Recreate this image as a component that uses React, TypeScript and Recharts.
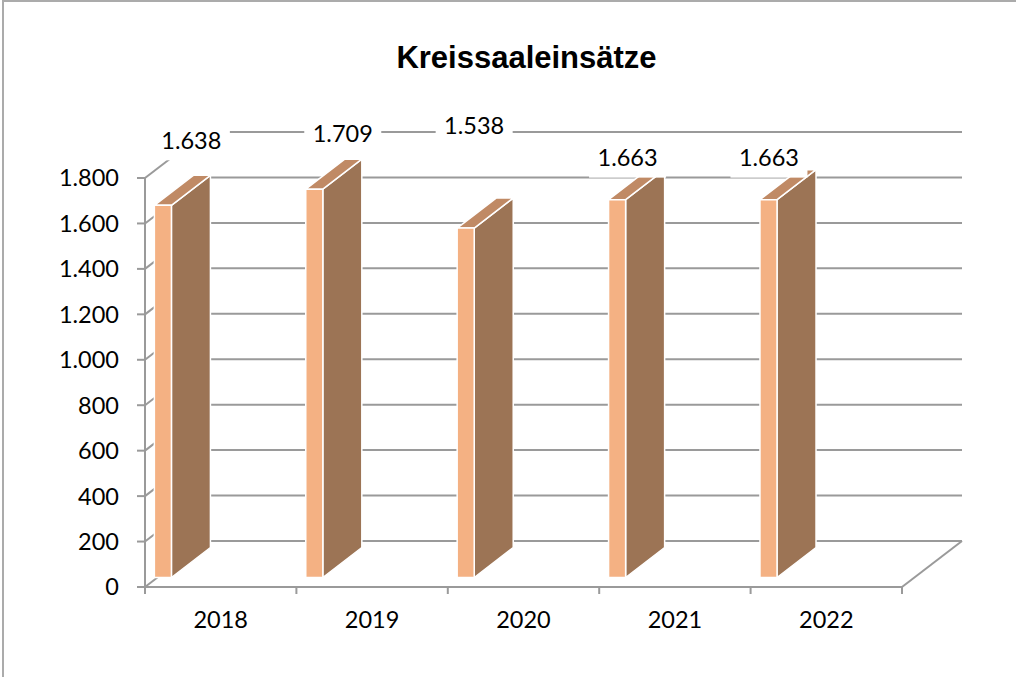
import { BarChart, Bar, XAxis, YAxis, CartesianGrid, LabelList } from "recharts";

// Kreissaaleinsätze pro Jahr
const years = ["2018", "2019", "2020", "2021", "2022"];
const einsaetze = [1638, 1709, 1538, 1663, 1663];
const yTicks = [0, 200, 400, 600, 800, 1000, 1200, 1400, 1600, 1800];

const data = years.map((year, i) => ({ year, value: einsaetze[i] }));

// labels were dragged around by hand in the original, offset from bar top
const LABEL_NUDGE = [
  [37, -65],
  [37, -56],
  [17, -102],
  [19, -42],
  [9, -42],
];

// fake 3D geometry (Excel look)
const WALL_DX = 60;
const WALL_DY = 46;
const BAR_DX = 39;
const BAR_DY = 30;
const BAR_LIFT = 9.5;
const GRID = "#9a9a9a";
const DIGITS = "Lato, 'Open Sans', sans-serif";
const FS = 23.5;

const fmt = (v: number) => String(v).replace(/\B(?=(\d{3})+(?!\d))/g, ".");

function Bar3D(props: any) {
  const { x, y, width, height } = props;
  const fx = x + width * 0.062;
  const fw = width * 0.113;
  const top = y - BAR_LIFT;
  const base = y + height - BAR_LIFT;
  const rx = fx + fw;
  return (
    <g stroke="#ffffff" strokeWidth={1.5} strokeLinejoin="round">
      <polygon
        points={`${rx},${top} ${rx + BAR_DX},${top - BAR_DY} ${rx + BAR_DX},${base - BAR_DY} ${rx},${base}`}
        fill="#9c7455"
      />
      <polygon
        points={`${fx},${top} ${rx},${top} ${rx + BAR_DX},${top - BAR_DY} ${fx + BAR_DX},${top - BAR_DY}`}
        fill="#c08a65"
      />
      <rect x={fx} y={top} width={fw} height={base - top} fill="#f4b183" />
    </g>
  );
}

function ValueLabel(props: any) {
  const { x, y, width, value, index } = props;
  const fx = x + width * 0.062;
  const top = y - BAR_LIFT;
  const [dx, dy] = LABEL_NUDGE[index] || [20, -50];
  const cx = fx + dx;
  const cy = top + dy;
  return (
    <g>
      <rect x={cx - 38.5} y={cy - 20} width={77} height={40} fill="#ffffff" />
      <text x={cx} y={cy} dy="0.36em" textAnchor="middle" fontFamily={DIGITS} fontSize={FS} fill="#000">
        {fmt(value)}
      </text>
    </g>
  );
}

// back wall line + side wall diagonal for every y tick
function WallLine(props: any) {
  const { x1, y1, x2 } = props;
  return (
    <g stroke={GRID} strokeWidth={2} fill="none">
      <line x1={x1 + WALL_DX} y1={y1 - WALL_DY} x2={x2 + WALL_DX} y2={y1 - WALL_DY} />
      <line x1={x1} y1={y1} x2={x1 + WALL_DX} y2={y1 - WALL_DY} />
    </g>
  );
}

function YTick(props: any) {
  const { x, y, payload } = props;
  return (
    <text x={x} y={y} dy="0.36em" textAnchor="end" fontFamily={DIGITS} fontSize={FS} fill="#000">
      {fmt(payload.value)}
    </text>
  );
}

function XTick(props: any) {
  const { x, y, payload, index, visibleTicksCount, width } = props;
  const half = payload.offset || width / visibleTicksCount / 2;
  const axisY = y - 6;
  const last = index === visibleTicksCount - 1;
  return (
    <g>
      <line x1={x - half} y1={axisY} x2={x - half} y2={axisY + 7} stroke={GRID} strokeWidth={2} />
      {last && (
        <>
          <line x1={x + half} y1={axisY} x2={x + half} y2={axisY + 7} stroke={GRID} strokeWidth={2} />
          <line x1={x + half} y1={axisY} x2={x + half + WALL_DX} y2={axisY - WALL_DY} stroke={GRID} strokeWidth={2} />
        </>
      )}
      <text x={x} y={axisY + 33} dy="0.36em" textAnchor="middle" fontFamily={DIGITS} fontSize={FS} fill="#000">
        {payload.value}
      </text>
    </g>
  );
}

export default function App() {
  return (
    <div
      style={{
        position: "absolute",
        left: 0,
        top: 0,
        width: 1016,
        height: 677,
        overflow: "hidden",
        background: "#fff",
      }}
    >
      <div
        style={{
          position: "absolute",
          left: 2,
          top: 0,
          width: 1100,
          height: 800,
          border: "2px solid #ababab",
          boxSizing: "border-box",
        }}
      />
      <div
        style={{
          position: "absolute",
          left: 0,
          top: 42,
          width: 1053,
          textAlign: "center",
          fontFamily: "'Liberation Sans', Arial, sans-serif",
          fontWeight: "bold",
          fontSize: 31,
          lineHeight: "31px",
          color: "#000",
        }}
      >
        Kreissaaleinsätze
      </div>
      <div style={{ position: "absolute", left: 0, top: 0 }}>
        <BarChart
          width={1016}
          height={677}
          data={data}
          margin={{ top: 178, right: 114, bottom: 60, left: 85 }}
          barCategoryGap={0}
        >
          <CartesianGrid vertical={false} horizontal={WallLine} />
          <YAxis
            domain={[0, 1800]}
            ticks={yTicks}
            width={60}
            interval={0}
            axisLine={{ stroke: GRID, strokeWidth: 2 }}
            tickLine={{ stroke: GRID, strokeWidth: 2 }}
            tickSize={8}
            tickMargin={18}
            tick={YTick}
          />
          <XAxis
            dataKey="year"
            height={30}
            interval={0}
            axisLine={{ stroke: GRID, strokeWidth: 2 }}
            tickLine={false}
            tickSize={6}
            tickMargin={0}
            tick={XTick}
          />
          <Bar dataKey="value" shape={Bar3D} isAnimationActive={false}>
            <LabelList dataKey="value" content={ValueLabel} />
          </Bar>
        </BarChart>
      </div>
    </div>
  );
}
